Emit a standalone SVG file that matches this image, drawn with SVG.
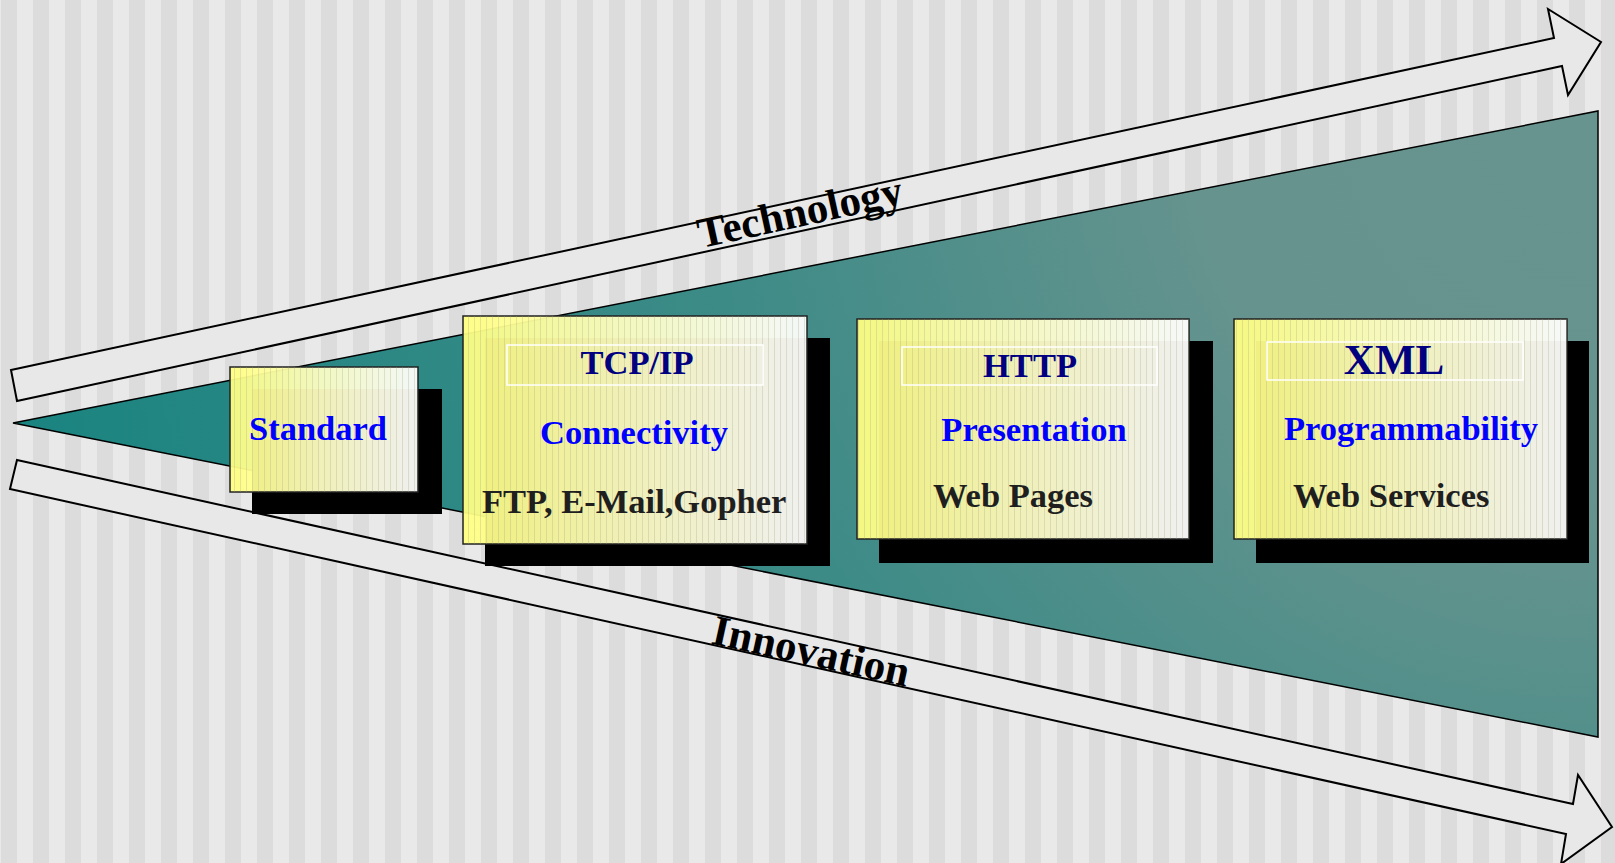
<svg xmlns="http://www.w3.org/2000/svg" width="1615" height="863" viewBox="0 0 1615 863">
<style>
.arrow{fill:#e8e8e8;stroke:#000;stroke-width:2;stroke-linejoin:miter}
.shadow{fill:#000}
.box{fill:url(#boxGrad);fill-opacity:0.94;stroke:#222;stroke-width:1.5}
.lines{fill:url(#boxLines)}
.frame{fill:none;stroke:#fff;stroke-width:1.5}
.t{font-family:"Liberation Serif","Times New Roman",serif;font-weight:bold;font-size:34.5px}
.title{fill:#000080}
.sub{fill:#0000ff}
.det{fill:#1f1f1f}
.big{font-family:"Liberation Serif","Times New Roman",serif;font-weight:bold;font-size:43px;fill:#000}
</style>
<defs>
<pattern id="stripes" patternUnits="userSpaceOnUse" x="1" y="0" width="32" height="863">
<rect x="0" y="0" width="16" height="863" fill="#dcdcdc"/>
<rect x="16" y="0" width="16" height="863" fill="#e9e9e9"/>
</pattern>
<radialGradient id="teal" gradientUnits="userSpaceOnUse" cx="1598" cy="111" r="1620">
<stop offset="0" stop-color="#67948f"/>
<stop offset="0.25" stop-color="#66938e"/>
<stop offset="0.55" stop-color="#3d8b87"/>
<stop offset="1" stop-color="#1a8480"/>
</radialGradient>
<linearGradient id="boxGrad" x1="0" y1="0" x2="1" y2="0">
<stop offset="0" stop-color="#ffff80"/>
<stop offset="0.45" stop-color="#ffffc0"/>
<stop offset="1" stop-color="#ffffff"/>
</linearGradient>
<pattern id="boxLines" patternUnits="userSpaceOnUse" x="0" y="0" width="6" height="10">
<rect x="0" y="0" width="1" height="10" fill="#a0a080" fill-opacity="0.28"/>
</pattern>
</defs>
<rect x="0" y="0" width="1615" height="863" fill="url(#stripes)"/>
<g id="funnel">
<polygon points="13,423 1598,111 1598,737" fill="url(#teal)" stroke="#000" stroke-width="1.5"/>
</g>
<g id="connectors">
<polygon class="arrow" points="11,370 1554,38 1548,9 1601,42 1568,95 1562,66 17,401"/>
<polygon class="arrow" points="17,460 1573,804 1578,775 1612,827 1561,864 1566,834 10,489"/>
</g>
<g id="technology">
<text class="big" x="803" y="226" text-anchor="middle" transform="rotate(-12.3 803 226)">Technology</text>
</g>
<g id="innovation">
<text class="big" x="808" y="665" text-anchor="middle" transform="rotate(12.4 808 665)">Innovation</text>
</g>
<g id="standard">
<rect class="shadow" x="252" y="389" width="190" height="125"/>
<rect class="box" x="230" y="367" width="188" height="125"/>
<rect class="lines" x="230" y="367" width="188" height="125"/>
<text class="t sub" x="318" y="440" text-anchor="middle">Standard</text>
</g>
<g id="tcpip">
<rect class="shadow" x="485" y="338" width="345" height="228"/>
<rect class="box" x="463" y="316" width="344" height="228"/>
<rect class="lines" x="463" y="316" width="344" height="228"/>
<rect class="frame" x="507" y="345" width="256" height="40"/>
<text class="t title" x="637" y="374" text-anchor="middle">TCP/IP</text>
<text class="t sub" x="634" y="444" text-anchor="middle">Connectivity</text>
<text class="t det" x="482" y="513">FTP, E-Mail,Gopher</text>
</g>
<g id="http">
<rect class="shadow" x="879" y="341" width="334" height="222"/>
<rect class="box" x="857" y="319" width="332" height="220"/>
<rect class="lines" x="857" y="319" width="332" height="220"/>
<rect class="frame" x="902" y="347" width="255" height="38"/>
<text class="t title" x="1030" y="377" text-anchor="middle">HTTP</text>
<text class="t sub" x="1034" y="441" text-anchor="middle">Presentation</text>
<text class="t det" x="933" y="507">Web Pages</text>
</g>
<g id="xml">
<rect class="shadow" x="1256" y="341" width="333" height="222"/>
<rect class="box" x="1234" y="319" width="333" height="220"/>
<rect class="lines" x="1234" y="319" width="333" height="220"/>
<rect class="frame" x="1267" y="342" width="256" height="38"/>
<text class="t title" x="1394" y="374" text-anchor="middle" style="font-size:43px">XML</text>
<text class="t sub" x="1411" y="440" text-anchor="middle">Programmability</text>
<text class="t det" x="1293" y="507">Web Services</text>
</g>
</svg>
